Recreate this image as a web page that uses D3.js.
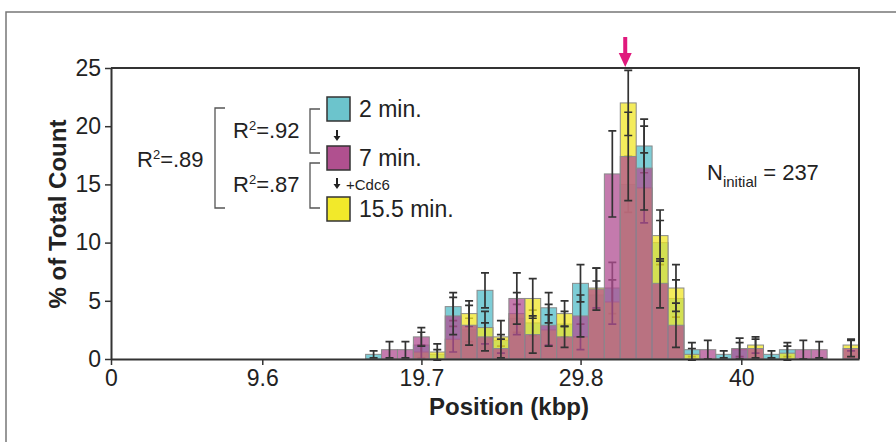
<!DOCTYPE html>
<html>
<head>
<meta charset="utf-8">
<style>
  body { margin: 0; background: #fff; }
  svg text { font-family: "Liberation Sans", Arial, Helvetica, sans-serif; fill: #222; }
  svg .tick text { font-size: 23px; }
  svg .domain { stroke: #333; stroke-width: 2px; }
  svg .tick line { stroke: #333; stroke-width: 1.5px; }
  svg .bar { stroke: #8a8a8a; stroke-width: 1px; }
  svg .err { stroke: #333; stroke-width: 1.7px; fill: none; }
  svg .bracket { stroke: #555; stroke-width: 1.3px; fill: none; }
</style>
</head>
<body>
<script src="https://d3js.org/d3.v7.min.js"></script>
<script>
// bins are ~1.01 kbp wide; values listed from bin 16 up to bin 46
var binStart = 16,
    binWidth = 1.01,
    nBins = 47;

var xTicks = [0, 9.6, 19.7, 29.8, 40];
var yTicks = [0, 5, 10, 15, 20, 25];

// % of total count, 2 min.
var min2 = [0.4, 0, 0, 1.2, 0.4, 4.5, 2.5, 5.9, 1.6, 3.5, 3.1, 4.4, 3.0, 6.5, 5.5, 6.1,
            15.0, 18.3, 10.0, 5.2, 0.8, 0, 0.4, 0.8, 0, 0.4, 0.8, 0, 0, 0, 0];
var min2Err = [0.3, 0, 0, 1.1, 0.4, 1.2, 1.0, 1.5, 0.5, 1.2, 1.1, 1.3, 1.1, 1.6, 1.2, 2.2,
               2.4, 2.3, 1.9, 1.6, 0.6, 0, 0.3, 0.6, 0, 0.3, 0.6, 0, 0, 0, 0];

// 7 min.
var min7 = [0, 0.8, 0.8, 1.9, 0, 3.7, 2.9, 1.9, 0.9, 5.2, 2.1, 2.9, 1.9, 3.7, 6.0, 15.9,
            17.4, 16.4, 6.5, 2.9, 0, 0.8, 0, 0.9, 0.9, 0, 0, 0.8, 0.8, 0, 0.9];
var min7Err = [0, 0.7, 0.7, 0.8, 0, 1.6, 1.7, 1.2, 0.8, 2.2, 1.6, 1.8, 0.9, 1.8, 1.8, 3.7,
               3.8, 3.6, 2.1, 1.9, 0, 0.8, 0, 0.9, 0.8, 0, 0, 0.8, 0.7, 0, 0.7];

// 15.5 min. (+Cdc6)
var min15 = [0, 0, 0, 0.6, 0.6, 1.7, 3.9, 2.7, 1.9, 3.9, 5.2, 2.5, 3.9, 1.9, 6.1, 4.9,
             22.0, 14.7, 10.6, 6.1, 0.4, 0, 0, 0, 1.2, 0, 0.5, 0, 0, 0, 1.2];
var min15Err = [0, 0, 0, 0.6, 0.7, 1.1, 1.1, 1.4, 1.4, 1.8, 1.7, 1.3, 1.1, 1.1, 1.7, 1.9,
                2.8, 3.0, 2.2, 2.0, 0.5, 0, 0, 0, 0.7, 0, 0.6, 0, 0, 0, 0.5];

var W = 896, H = 442;
var plotL = 111, plotR = 859, plotT = 68, plotB = 359;

var svg = d3.select("body").append("svg")
    .attr("width", W)
    .attr("height", H);

// outer frame
svg.append("path")
    .attr("d", "M6," + H + "V12H" + W)
    .attr("fill", "none")
    .attr("stroke", "#777")
    .attr("stroke-width", 1.5);

var x = d3.scaleLinear().domain([0, nBins * binWidth]).range([plotL, plotR]);
var y = d3.scaleLinear().domain([0, 25]).range([plotB, plotT]);

function drawSeries(vals, errs, color, opacity) {
  var rows = vals.map(function (v, i) {
    return { bin: binStart + i, v: v, e: errs[i] };
  }).filter(function (d) { return d.v > 0; });

  var g = svg.append("g");
  g.selectAll("rect").data(rows).enter().append("rect")
      .classed("bar", true)
      .attr("x", function (d) { return x(d.bin * binWidth); })
      .attr("width", function (d) { return x((d.bin + 1) * binWidth) - x(d.bin * binWidth); })
      .attr("y", function (d) { return y(d.v); })
      .attr("height", function (d) { return y(0) - y(d.v); })
      .attr("fill", color)
      .attr("fill-opacity", opacity);

  var cap = 4;
  g.selectAll("path.err").data(rows.filter(function (d) { return d.e > 0; })).enter().append("path")
      .classed("err", true)
      .attr("d", function (d) {
        var cx = x((d.bin + 0.5) * binWidth),
            hi = y(d.v + d.e),
            lo = y(Math.max(d.v - d.e, -0.3));
        return "M" + (cx - cap) + "," + hi + "H" + (cx + cap) +
               "M" + cx + "," + hi + "V" + lo +
               "M" + (cx - cap) + "," + lo + "H" + (cx + cap);
      });
}

// drawn in this order so later bars veil earlier error bars
drawSeries(min2, min2Err, "#5cc0cc", 0.8);
drawSeries(min15, min15Err, "#f0e626", 0.75);
drawSeries(min7, min7Err, "#b04d92", 0.75);

// axes
var xAxis = d3.axisBottom(x).tickValues(xTicks).tickFormat(d3.format("")).tickSize(6).tickPadding(5).tickSizeOuter(0);
svg.append("g")
    .attr("transform", "translate(0," + plotB + ")")
    .call(xAxis);

var yAxis = d3.axisLeft(y).tickValues(yTicks).tickSize(6).tickPadding(4).tickSizeOuter(0);
svg.append("g")
    .attr("transform", "translate(" + plotL + ",0)")
    .call(yAxis);

// top and right border of the plot
svg.append("path")
    .attr("d", "M" + plotL + "," + plotT + "H" + plotR + "V" + plotB)
    .attr("fill", "none")
    .attr("stroke", "#333")
    .attr("stroke-width", 2);

// axis titles
svg.append("text")
    .attr("transform", "translate(66,214) rotate(-90)")
    .attr("text-anchor", "middle")
    .style("font-size", "24px")
    .style("font-weight", "bold")
    .text("% of Total Count");

svg.append("text")
    .attr("x", 509).attr("y", 415)
    .attr("text-anchor", "middle")
    .style("font-size", "24px")
    .style("font-weight", "bold")
    .text("Position (kbp)");

// pink arrow marking the peak
var ax = x(32.5 * binWidth) - 3;
svg.append("path")
    .attr("d", "M" + (ax - 2) + ",37V53H" + (ax - 6.5) + "L" + ax + ",67L" + (ax + 6.5) + ",53H" + (ax + 2) + "V37Z")
    .attr("fill", "#e0197d");

// legend
var legend = [
  { label: "2 min.", color: "#6cc4cc", y: 97 },
  { label: "7 min.", color: "#b0508f", y: 146 },
  { label: "15.5 min.", color: "#f2e92a", y: 197 }
];
legend.forEach(function (d) {
  svg.append("rect")
      .attr("x", 327).attr("y", d.y).attr("width", 23).attr("height", 24)
      .attr("fill", d.color).attr("stroke", "#333").attr("stroke-width", 1.5);
  svg.append("text")
      .attr("x", 359).attr("y", d.y + 20)
      .style("font-size", "23px")
      .text(d.label);
});

function smallArrow(cx, y0) {
  svg.append("path")
      .attr("d", "M" + (cx - 1) + "," + y0 + "V" + (y0 + 6) + "H" + (cx - 3.5) + "L" + cx + "," + (y0 + 11) +
                 "L" + (cx + 3.5) + "," + (y0 + 6) + "H" + (cx + 1) + "V" + y0 + "Z")
      .attr("fill", "#222");
}
smallArrow(337, 130);
smallArrow(337, 178);
svg.append("text").attr("x", 346).attr("y", 190).style("font-size", "15px").text("+Cdc6");

function bracket(xv, y0, y1) {
  svg.append("path").classed("bracket", true)
      .attr("d", "M" + (xv + 10) + "," + y0 + "H" + xv + "V" + y1 + "H" + (xv + 10));
}
bracket(310, 109, 153);
bracket(310, 163, 208);
bracket(215, 108, 208);

function rsq(tx, ty, val) {
  var t = svg.append("text").attr("x", tx).attr("y", ty).style("font-size", "22px");
  t.append("tspan").text("R");
  t.append("tspan").attr("dy", -8).style("font-size", "13px").text("2");
  t.append("tspan").attr("dy", 8).text("=" + val);
}
rsq(233, 138, ".92");
rsq(233, 192, ".87");
rsq(137, 167, ".89");

var nt = svg.append("text").attr("x", 707).attr("y", 180).style("font-size", "22px");
nt.append("tspan").text("N");
nt.append("tspan").attr("dy", 7).style("font-size", "15px").text("initial");
nt.append("tspan").attr("dy", -7).text(" = 237");
</script>
</body>
</html>
